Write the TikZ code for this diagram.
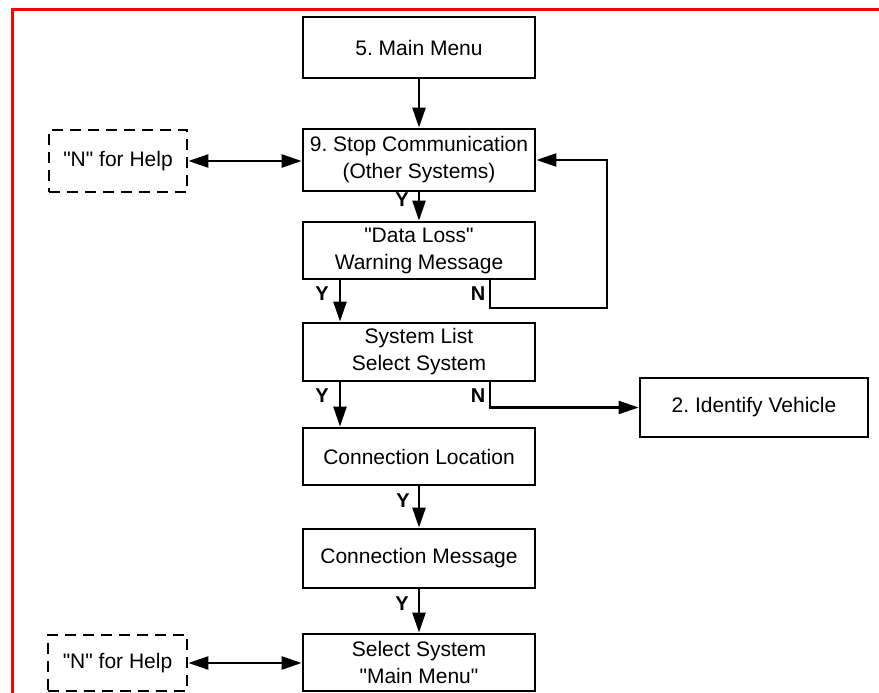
\documentclass[tikz,border=0pt]{standalone}
\usepackage{fontspec}
% plain family without TeX ligatures, so " stays a straight quote
\newfontfamily\arialfont{Liberation Sans}
\usetikzlibrary{arrows.meta,calc}

\begin{document}
\begin{tikzpicture}[x=1pt,y=-1pt,
  box/.style={draw, line width=2.8pt, minimum width=232pt, inner sep=0pt,
    align=center, font=\arialfont\frenchspacing\fontsize{21}{27}\selectfont},
  helpbox/.style={box, dash pattern=on 11pt off 7pt, line cap=butt},
  flow/.style={line width=2.4pt, -{Triangle[length=20pt,width=13pt]}},
  both/.style={line width=2.4pt, {Triangle[length=20pt,width=13pt]}-{Triangle[length=20pt,width=13pt]}},
  lab/.style={font=\arialfont\fontsize{20}{22}\selectfont\bfseries, inner sep=0pt}]

% page area
\clip (0,0) rectangle (879,693);
\fill[white] (0,0) rectangle (879,693);

% red frame (top and left edges)
\draw[red, line width=3pt] (12.5,700) -- (12.5,9.7) -- (890,9.7);

% main column
\node[box, minimum height=61pt] (main) at (419,47.5) {5. Main Menu};
\node[box, minimum height=62pt] (stop) at (419,160) {9. Stop Communication\\(Other Systems)};
\node[box, minimum height=57pt] (loss) at (419,250.5) {"Data Loss"\\Warning Message};
\node[box, minimum height=58pt] (list) at (419,352) {System List\\Select System};
\node[box, minimum height=57pt] (loc) at (419,456.5) {Connection Location};
\node[box, minimum height=59pt] (msg) at (419,558.5) {Connection Message};
\node[box, minimum height=57pt] (sel) at (419,662.5) {Select System\\"Main Menu"};

% side boxes
\node[box, minimum width=228pt, minimum height=59pt] (ident) at (754,407.5) {2. Identify Vehicle};
\node[helpbox, minimum width=138pt, minimum height=62pt] (help1) at (118,161) {"N" for Help};
\node[helpbox, minimum width=139pt, minimum height=56pt] (help2) at (117.5,663) {"N" for Help};

% loop turning point
\coordinate (loopA) at (607,308);

% connectors
\draw[flow] (main) -- (stop);
\draw[flow] (stop) -- (loss);
\draw[flow] ($(loss.south)+(-79,0)$) -- ($(list.north)+(-79,0)$);
\draw[flow] ($(loss.south)+(71,0)$) |- (loopA) |- (stop.east);
\draw[flow] ($(list.south)+(-79,0)$) -- ($(loc.north)+(-79,0)$);
\draw[flow] ($(list.south)+(71,0)$) |- (ident.west);
\draw[flow] (loc) -- (msg);
\draw[flow] (msg) -- (sel);
\draw[both] (help1) -- (stop.west |- help1);
\draw[both] (help2) -- (sel.west |- help2);

% branch labels
\node[lab] (y1) at (402,200) {Y};
\node[lab] (y2) at (322,294) {Y};
\node[lab] (n1) at (478,294) {N};
\node[lab] (y3) at (322,396) {Y};
\node[lab] (n2) at (478,396) {N};
\node[lab] (y4) at (403,501) {Y};
\node[lab] (y5) at (402,604) {Y};
\end{tikzpicture}
\end{document}
